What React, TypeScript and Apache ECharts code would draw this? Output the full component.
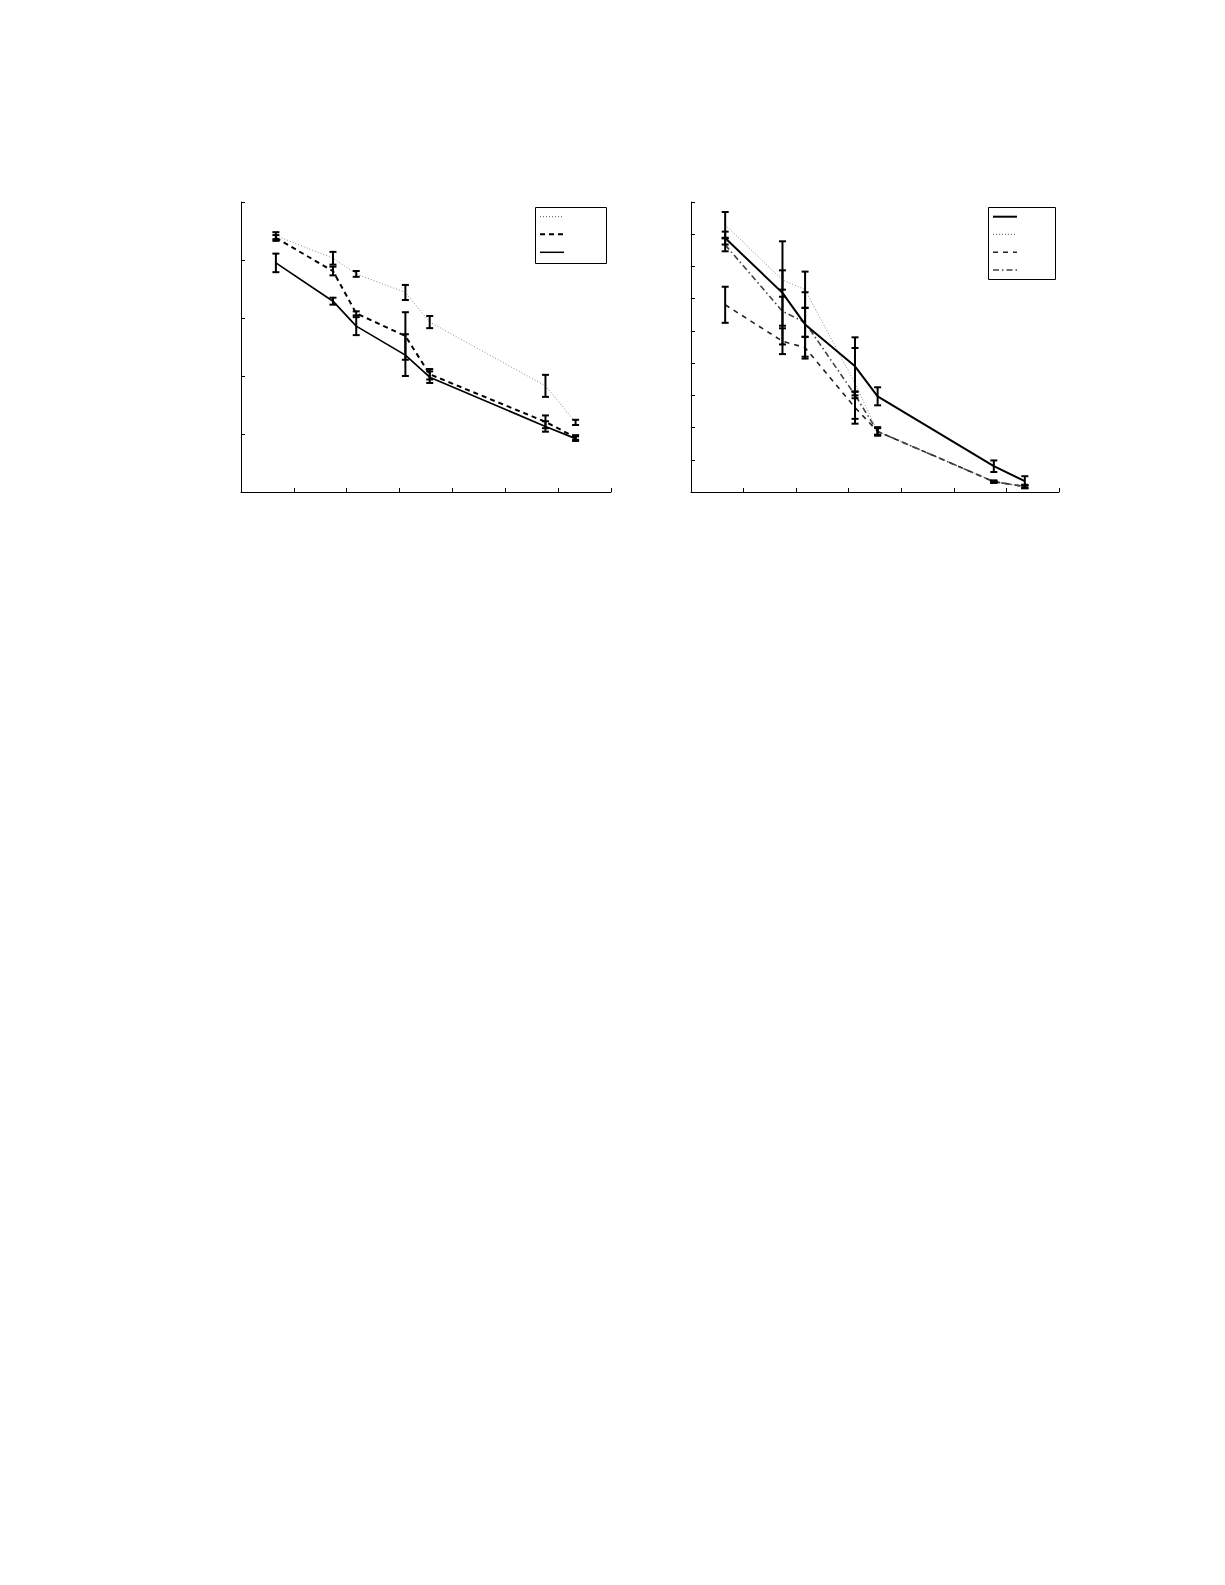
import React, { useEffect, useRef } from "react";
import * as echarts from "echarts";

// Left panel
const leftX = [0.66, 1.74, 2.18, 3.11, 3.57, 5.76, 6.33];
const leftDotted = [4.42, 4.03, 3.76, 3.44, 2.93, 1.83, 1.2];
const leftDottedErr = [0.06, 0.11, 0.05, 0.13, 0.105, 0.19, 0.045];
const leftDashed = [4.38, 3.81, 3.08, 2.69, 2.03, 1.21, 0.94];
const leftDashedErr = [0.05, 0.075, 0.035, 0.41, 0.09, 0.11, 0.04];
const leftSolid = [3.95, 3.29, 2.86, 2.36, 1.98, 1.13, 0.92];
const leftSolidErr = [0.16, 0.06, 0.155, 0.36, 0.1, 0.09, 0.04];

// Right panel
const rightX = [0.65, 1.74, 2.17, 3.12, 3.55, 5.76, 6.35];
const rightSolid = [7.88, 6.18, 5.2, 3.9, 2.97, 0.8, 0.34];
const rightSolidErr = [0.2, 1.6, 1.0, 0.9, 0.28, 0.18, 0.15];
const rightDotted = [8.29, 6.58, 6.28, 3.37, 1.88, 0.32, 0.17];
const rightDottedErr = [0.4, 0.3, 0.56, 1.1, 0.1, 0.03, 0.05];
const rightDashed = [5.81, 4.68, 4.48, 2.62, 1.88, 0.32, 0.17];
const rightDashedErr = [0.56, 0.4, 0.34, 0.5, 0.12, 0.03, 0.05];
const rightDashDot = [7.67, 5.61, 5.26, 3.01, 1.88, 0.32, 0.17];
const rightDashDotErr = [0.2, 0.45, 0.45, 0.1, 0.13, 0.03, 0.05];

const pairs = (xs: number[], ys: number[]) => xs.map((x, i) => [x, ys[i]]);
const triples = (xs: number[], ys: number[], es: number[]) => xs.map((x, i) => [x, ys[i], es[i]]);

function errRender(width: number) {
  return (params: any, api: any) => {
    const x = api.value(0);
    const y = api.value(1);
    const e = api.value(2);
    const t = api.coord([x, y + e]);
    const b = api.coord([x, y - e]);
    const cap = 3.5;
    const st = { stroke: "#000", lineWidth: width };
    return {
      type: "group",
      children: [
        { type: "line", shape: { x1: t[0], y1: t[1], x2: b[0], y2: b[1] }, style: st },
        { type: "line", shape: { x1: t[0] - cap, y1: t[1], x2: t[0] + cap, y2: t[1] }, style: st },
        { type: "line", shape: { x1: b[0] - cap, y1: b[1], x2: b[0] + cap, y2: b[1] }, style: st },
      ],
    };
  };
}

function lineSeries(data: number[][], idx: number, color: string, width: number, type: any) {
  return {
    type: "line",
    xAxisIndex: idx,
    yAxisIndex: idx,
    data,
    symbol: "none",
    lineStyle: { color, width, type },
    z: 2,
  };
}

function errSeries(data: number[][], idx: number, width = 2) {
  return {
    type: "custom",
    xAxisIndex: idx,
    yAxisIndex: idx,
    data,
    encode: { x: 0, y: 1 },
    renderItem: errRender(width),
    z: 3,
  };
}

const axisCommon = {
  axisLine: { show: true, lineStyle: { color: "#000", width: 1 } },
  axisTick: { show: true, inside: true, length: 4, lineStyle: { color: "#000", width: 1 } },
  axisLabel: { show: false },
  splitLine: { show: false },
};

export default function App() {
  const ref = useRef<HTMLDivElement>(null);
  useEffect(() => {
    if (!ref.current) return;
    const chart = echarts.init(ref.current, null, { renderer: "svg" });
    const legendLine = (x1: number, x2: number, y: number, color: string, width: number, dash: any) => ({
      type: "line",
      z: 100,
      shape: { x1, y1: y, x2, y2: y },
      style: { stroke: color, lineWidth: width, lineDash: dash },
    });
    chart.setOption({
      animation: false,
      backgroundColor: "#fff",
      grid: [
        { left: 241, top: 202, width: 370, height: 290 },
        { left: 691, top: 202, width: 368, height: 290 },
      ],
      xAxis: [
        { type: "value", gridIndex: 0, min: 0, max: 7, interval: 1, ...axisCommon },
        { type: "value", gridIndex: 1, min: 0, max: 7, interval: 1, ...axisCommon },
      ],
      yAxis: [
        { type: "value", gridIndex: 0, min: 0, max: 5, interval: 1, ...axisCommon },
        { type: "value", gridIndex: 1, min: 0, max: 9, interval: 1, ...axisCommon },
      ],
      series: [
        lineSeries(pairs(leftX, leftDotted), 0, "#888", 1, [1, 2]),
        lineSeries(pairs(leftX, leftDashed), 0, "#000", 2, [5, 4]),
        lineSeries(pairs(leftX, leftSolid), 0, "#000", 1.7, "solid"),
        errSeries(triples(leftX, leftDotted, leftDottedErr), 0),
        errSeries(triples(leftX, leftDashed, leftDashedErr), 0),
        errSeries(triples(leftX, leftSolid, leftSolidErr), 0),
        lineSeries(pairs(rightX, rightDotted), 1, "#888", 1, [1, 2]),
        lineSeries(pairs(rightX, rightDashed), 1, "#222", 1.6, [5, 5]),
        lineSeries(pairs(rightX, rightDashDot), 1, "#444", 1.6, [6, 3, 1.5, 3]),
        lineSeries(pairs(rightX, rightSolid), 1, "#000", 2, "solid"),
        errSeries(triples(rightX, rightSolid, rightSolidErr), 1),
        errSeries(triples(rightX, rightDotted, rightDottedErr), 1),
        errSeries(triples(rightX, rightDashed, rightDashedErr), 1),
        errSeries(triples(rightX, rightDashDot, rightDashDotErr), 1),
      ],
      graphic: [
        {
          type: "rect",
          z: 99,
          shape: { x: 535.5, y: 207.5, width: 71, height: 56 },
          style: { fill: "#fff", stroke: "#000", lineWidth: 1 },
        },
        legendLine(540, 564, 216.7, "#555", 1, [1, 2]),
        legendLine(540, 564, 234.3, "#000", 2, [5, 4]),
        legendLine(540, 564, 252.3, "#000", 1.5, null),
        {
          type: "rect",
          z: 99,
          shape: { x: 988.5, y: 207.5, width: 67, height: 72 },
          style: { fill: "#fff", stroke: "#000", lineWidth: 1 },
        },
        legendLine(993, 1017, 216.7, "#000", 2, null),
        legendLine(993, 1017, 234.3, "#555", 1, [1, 2]),
        legendLine(993, 1017, 252.3, "#222", 1.5, [5, 5]),
        legendLine(993, 1017, 270, "#444", 1.5, [6, 3, 1.5, 3]),
      ],
    });
    return () => chart.dispose();
  }, []);
  return (
    <div
      ref={ref}
      style={{ position: "absolute", left: 0, top: 0, width: 1225, height: 1585, background: "#fff" }}
    />
  );
}
